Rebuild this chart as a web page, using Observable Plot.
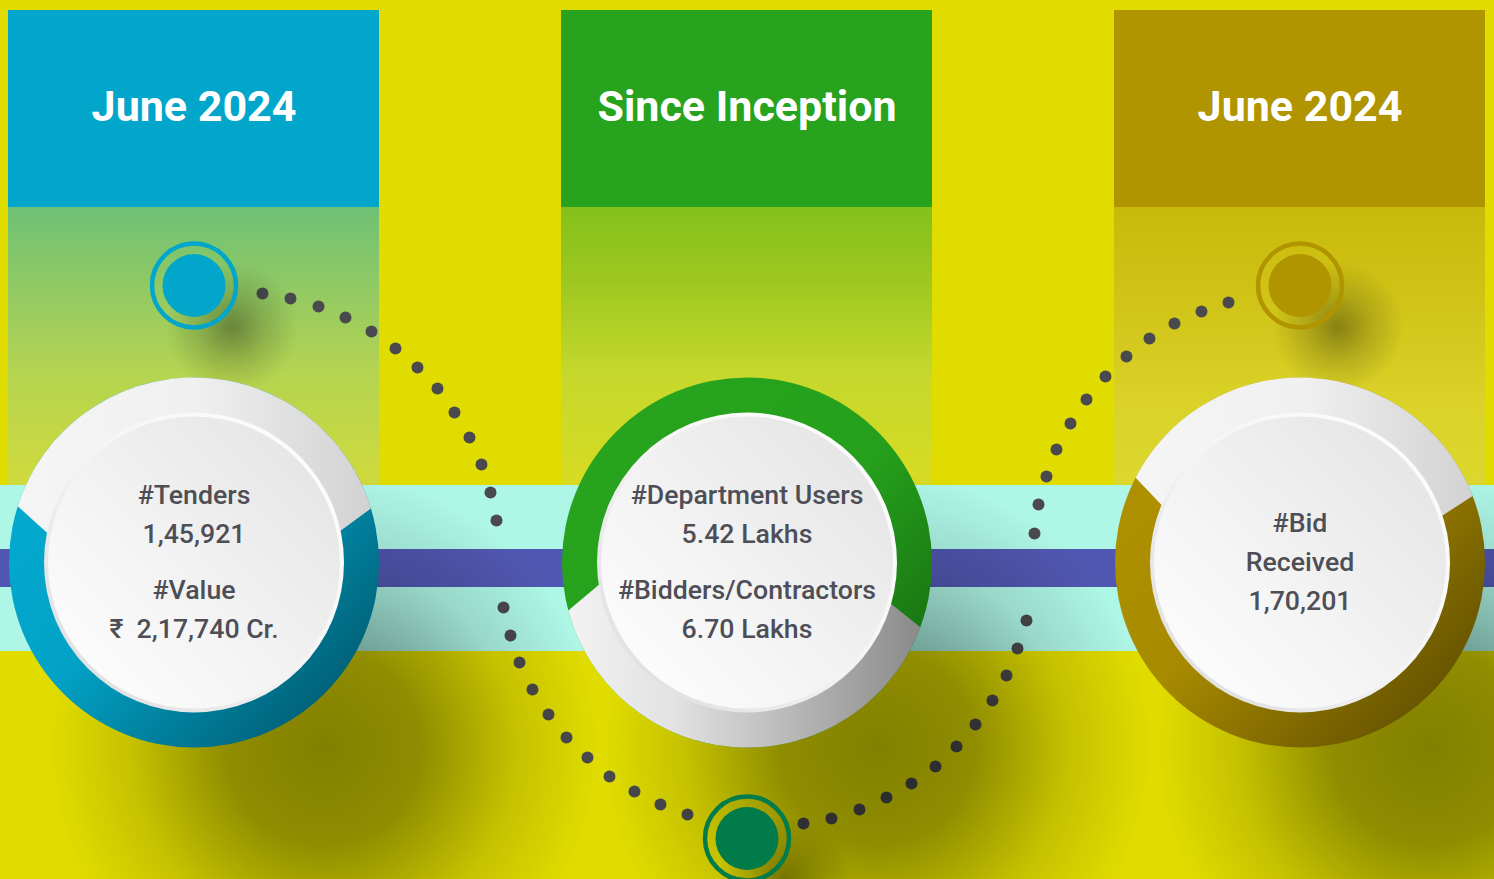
<!DOCTYPE html>
<html><head><meta charset="utf-8">
<script src="https://cdn.jsdelivr.net/npm/d3@7"></script>
<script src="https://cdn.jsdelivr.net/npm/@observablehq/plot@0.6"></script>
<style>html,body{margin:0;padding:0;background:#E0DC00;overflow:hidden}</style>
</head><body><div id="chart"></div>
<script>
// ---------- data ----------
const panelTitles = ["June 2024", "Since Inception", "June 2024"];
const metricLabels = [["#Tenders", "#Value"], ["#Department Users", "#Bidders/Contractors"], ["#Bid\nReceived"]];
const metricValues = [["1,45,921", "₹  2,17,740 Cr."], ["5.42 Lakhs", "6.70 Lakhs"], ["1,70,201"]];
// dotted connector path (dots hidden by the purple band are omitted)
const pathX = [262,290,318,345,371,395,417,437,454,469,481,490,496,503,510,519,532,548,566,587,609,634,660,687,
               803,831,859,886,911,935,956,975,992,1006,1017,1026,1034,1038,1046,1056,1070,1086,1105,1126,1149,1174,1201,1228];
const pathY = [293,298,306,317,331,348,367,388,412,437,464,492,520,607,635,662,689,714,737,757,776,791,804,814,
               823,818,809,797,783,766,746,724,700,675,648,620,533,504,476,449,423,399,376,356,338,323,311,302];

// ---------- layout & styles ----------
const W = 1494, H = 879;
const L = {
  cx: [193.5, 746.5, 1299.5], half: 185.5,
  headerTop: 10, headerBottom: 207, bandTop: 485, bandBottom: 651, purpleTop: 549, purpleBottom: 587,
  cy: 562, R: 185, rBevel: 150, rFace: 146,
  markerY: [285, 838, 285], markerRing: 42, markerDisc: 31.5,
  wedge: [ {a0: -162.3, a1: -17, ax: -17, ay: 88},
           {a0: 20.5, a1: 165, ax: -17, ay: -88},
           {a0: -152.7, a1: -21.1, ax: -25, ay: 62} ],
  shadowDx: 130, shadowDy: 185, shadowR: 275,
  mShadowDx: 38, mShadowDy: 42, mShadowR: 66,
  lineGap: 39, groupGap: 56, titleY: 107
};
const headerColors = ["#02A6CB", "#27A31D", "#B09400"];
const markerColors = ["#02A6CB", "#027B4B", "#B09400"];
const textColor = "#4E4E56";

const idx = [0, 1, 2];
const panels = idx.map(i => ({i, title: panelTitles[i], x1: L.cx[i] - L.half, x2: L.cx[i] + L.half, cx: L.cx[i]}));
const pathPts = pathX.map((x, k) => ({x, y: pathY[k]}));

function wedgePoly(i) {
  const w = L.wedge[i], pts = [];
  const n = 80;
  for (let k = 0; k <= n; k++) {
    const a = (w.a0 + (w.a1 - w.a0) * k / n) * Math.PI / 180;
    pts.push({x: L.cx[i] + L.R * Math.cos(a), y: L.cy + L.R * Math.sin(a)});
  }
  pts.push({x: L.cx[i] + w.ax, y: L.cy + w.ay});
  return pts;
}

// text lines
const textLines = [];
idx.forEach(i => {
  const lines = [];
  metricLabels[i].forEach((lab, j) => {
    const parts = lab.split("\n").concat([metricValues[i][j]]);
    parts.forEach((t, k) => lines.push({t, gap: lines.length === 0 ? 0 : (k === 0 ? L.groupGap : L.lineGap)}));
  });
  let off = 0;
  lines.forEach(l => { off += l.gap; l.off = off; });
  const mid = off / 2;
  lines.forEach(l => textLines.push({x: L.cx[i], y: L.cy - mid + l.off, t: l.t}));
});

const marks = [
  Plot.frame({fill: "#E0DC00", stroke: "none"}),
  // header blocks
  Plot.rect(panels, {x1: "x1", x2: "x2", y1: () => L.headerTop, y2: () => L.headerBottom, fill: d => headerColors[d.i]}),
  ...idx.map(i => Plot.rect([panels[i]], {x1: "x1", x2: "x2", y1: () => L.headerBottom, y2: () => L.bandTop, fill: `url(#fade${i})`})),
  // cyan band
  Plot.rect([0], {x1: () => 0, x2: () => W, y1: () => L.bandTop, y2: () => L.bandBottom, fill: "#AEF6E6"}),
  // dotted connector
  Plot.dot(pathPts, {x: "x", y: "y", r: 6, fill: "#4A4A4E"}),
  // purple band
  Plot.rect([0], {x1: () => 0, x2: () => W, y1: () => L.purpleTop, y2: () => L.purpleBottom, fill: "#5057B0"}),
  // big soft shadows
  Plot.dot(idx, {x: i => L.cx[i] + L.shadowDx, y: () => L.cy + L.shadowDy, r: L.shadowR, fill: "url(#shadowBig)"}),
  // marker shadows
  Plot.dot(idx, {x: i => L.cx[i] + L.mShadowDx, y: i => L.markerY[i] + L.mShadowDy, r: L.mShadowR, fill: "url(#shadowSmall)"}),
  // markers
  Plot.dot(idx, {x: i => L.cx[i], y: i => L.markerY[i], r: L.markerRing, fill: "none", stroke: i => markerColors[i], strokeWidth: 4.5}),
  Plot.dot(idx, {x: i => L.cx[i], y: i => L.markerY[i], r: L.markerDisc, fill: i => markerColors[i]}),
  // big circles
  ...idx.map(i => Plot.dot([i], {x: () => L.cx[i], y: () => L.cy, r: L.R, fill: `url(#ring${i})`})),
  ...idx.map(i => Plot.line(wedgePoly(i), {x: "x", y: "y", curve: "linear-closed", stroke: "none", fill: `url(#gray${i})`})),
  Plot.dot(idx, {x: i => L.cx[i], y: () => L.cy, r: L.rBevel, fill: "url(#bevel)"}),
  Plot.dot(idx, {x: i => L.cx[i], y: () => L.cy, r: L.rFace, fill: "url(#face)"}),
  // header titles
  Plot.text(panels, {x: "cx", y: () => L.titleY, text: "title", fill: "#FFFFFF", fontSize: 43, fontWeight: 700}),
  // metric text
  Plot.text(textLines, {x: "x", y: "y", text: "t", fill: textColor, fontSize: 26.7, fontWeight: 500})
];

const chart = Plot.plot({
  width: W, height: H, margin: 0,
  x: {type: "linear", domain: [0, W], range: [0, W], axis: null},
  y: {type: "linear", domain: [0, H], range: [0, H], axis: null},
  style: {fontFamily: "Roboto, sans-serif", background: "#E0DC00", overflow: "visible"},
  marks
});

// gradients
const svg = d3.select(chart);
const defs = svg.insert("defs", ":first-child");
function lin(id, x1, y1, x2, y2, stops) {
  const g = defs.append("linearGradient").attr("id", id).attr("x1", x1).attr("y1", y1).attr("x2", x2).attr("y2", y2);
  stops.forEach(([o, c, op]) => g.append("stop").attr("offset", o).attr("stop-color", c).attr("stop-opacity", op ?? 1));
}
function rad(id, stops) {
  const g = defs.append("radialGradient").attr("id", id);
  stops.forEach(([o, c, op]) => g.append("stop").attr("offset", o).attr("stop-color", c).attr("stop-opacity", op ?? 1));
}
lin("fade0", 0, 0, 0, 1, [[0, "#6EC175"], [0.35, "#98CB60"], [0.6, "#B5D450"], [1, "#D0DA3C"]]);
lin("fade1", 0, 0, 0, 1, [[0, "#83C11A"], [0.25, "#9CC720"], [0.6, "#C5D82C"], [1, "#D8DB22"]]);
lin("fade2", 0, 0, 0, 1, [[0, "#C8BA0A"], [0.35, "#D0C418"], [0.7, "#DAD228"], [1, "#DCD82E"]]);
lin("ring0", 0.15, 0.3, 0.85, 0.95, [[0, "#03A8CD"], [0.35, "#02A2C6"], [1, "#005C72"]]);
lin("ring1", 0.15, 0.2, 0.9, 0.9, [[0, "#27A31D"], [0.5, "#26A01C"], [1, "#166E10"]]);
lin("ring2", 0.15, 0.3, 0.85, 0.95, [[0, "#AD8F00"], [0.35, "#A88A00"], [1, "#625000"]]);
lin("gray0", 0, 0, 1, 0, [[0, "#F5F5F5"], [0.5, "#F0F0F0"], [1, "#D2D2D2"]]);
lin("gray1", 0, 0, 1, 0, [[0, "#F2F2F2"], [0.3, "#E2E2E2"], [1, "#8A8A8A"]]);
lin("gray2", 0, 0, 1, 0, [[0, "#F5F5F5"], [0.5, "#F0F0F0"], [1, "#D2D2D2"]]);
lin("bevel", 1, 0, 0, 1, [[0, "#FFFFFF"], [0.5, "#F4F4F4"], [1, "#DADADA"]]);
lin("face", 1, 0, 0, 1, [[0, "#E2E2E2"], [0.55, "#F3F3F3"], [1, "#FFFFFF"]]);
rad("shadowBig", [[0, "#000", 0.42], [0.35, "#000", 0.36], [0.7, "#000", 0.12], [1, "#000", 0]]);
rad("shadowSmall", [[0, "#000", 0.35], [0.5, "#000", 0.15], [1, "#000", 0]]);

document.getElementById("chart").appendChild(chart);
</script>
</body></html>
